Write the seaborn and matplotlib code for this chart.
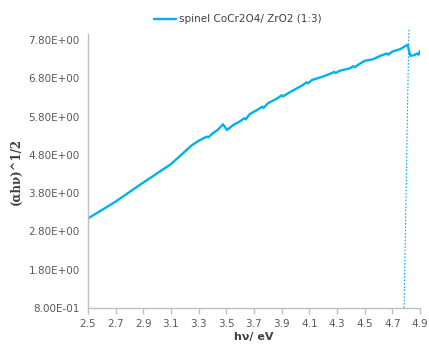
import matplotlib
matplotlib.use("Agg")
import matplotlib.pyplot as plt
import seaborn as sns
import pandas as pd
from matplotlib.ticker import FuncFormatter, FixedLocator

hv = [2.50, 2.70, 2.88, 3.10, 3.25, 3.30, 3.36, 3.37, 3.40, 3.44, 3.476, 3.505,
      3.55, 3.60, 3.63, 3.64, 3.67, 3.72, 3.76, 3.77, 3.80, 3.87, 3.90, 3.91,
      3.96, 4.05, 4.08, 4.09, 4.12, 4.20, 4.25, 4.28, 4.29, 4.32, 4.39, 4.42,
      4.43, 4.45, 4.50, 4.56, 4.62, 4.66, 4.67, 4.70, 4.76, 4.81, 4.83, 4.86,
      4.88, 4.89, 4.90]
ahv = [3.14, 3.58, 4.03, 4.56, 5.05, 5.17, 5.28, 5.26, 5.36, 5.46, 5.60, 5.45,
       5.58, 5.68, 5.76, 5.73, 5.87, 5.97, 6.06, 6.03, 6.15, 6.28, 6.36, 6.33,
       6.44, 6.62, 6.70, 6.67, 6.76, 6.85, 6.92, 6.97, 6.94, 7.00, 7.06, 7.12,
       7.09, 7.15, 7.26, 7.30, 7.40, 7.45, 7.42, 7.50, 7.57, 7.68, 7.39, 7.41,
       7.45, 7.42, 7.52]
tang_x = [4.785, 4.82]
tang_y = [0.8, 8.12]
xticks = [2.5, 2.7, 2.9, 3.1, 3.3, 3.5, 3.7, 3.9, 4.1, 4.3, 4.5, 4.7, 4.9]
yticks = [0.8, 1.8, 2.8, 3.8, 4.8, 5.8, 6.8, 7.8]
series_name = "spinel CoCr2O4/ ZrO2 (1:3)"

sns.set_style("white")
plt.rcParams['font.family'] = ['DejaVu Sans']

fig = plt.figure(figsize=(4.29, 3.49), dpi=100)
ax = fig.add_axes([0.205, 0.1175, 0.774, 0.785])

df = pd.DataFrame({"hv": hv, "ahv": ahv})
blue = "#00B0F0"
sns.lineplot(data=df, x="hv", y="ahv", ax=ax, color=blue, linewidth=1.7,
             label=series_name)
ax.plot(tang_x, tang_y, color=blue, linewidth=0.8, linestyle=(0, (1.5, 1.5)),
        clip_on=False)

ax.set_xlim(2.5, 4.9)
ax.set_ylim(0.8, 7.96)
ax.xaxis.set_major_locator(FixedLocator(xticks))
ax.yaxis.set_major_locator(FixedLocator(yticks))
ax.xaxis.set_major_formatter(FuncFormatter(lambda v, p: f"{v:.1f}"))
ax.yaxis.set_major_formatter(FuncFormatter(lambda v, p: f"{v:.2E}"))

for sp in ["top", "right"]:
    ax.spines[sp].set_visible(False)
for sp in ["left", "bottom"]:
    ax.spines[sp].set_color("#BFBFBF")
    ax.spines[sp].set_linewidth(1.0)

ax.tick_params(axis="x", which="major", length=4, color="#BFBFBF", width=1,
               labelsize=7.5, labelcolor="#595959", pad=4, direction="out", bottom=True)
ax.tick_params(axis="y", which="major", length=0, labelsize=7.5,
               labelcolor="#595959", pad=6)

ax.set_xlabel("hν/ eV", fontsize=8, fontweight="bold", color="#404040", labelpad=2)
ax.set_ylabel("(αhν)^1/2", fontsize=8.5, fontweight="bold", color="#404040",
              family="DejaVu Serif", labelpad=4)

leg = ax.legend(loc="lower center", bbox_to_anchor=(0.45, 1.02), frameon=False,
                fontsize=7.5, handlelength=2.2, handletextpad=0.2, borderaxespad=0)
for t in leg.get_texts():
    t.set_color("#404040")

fig.savefig("out.png", dpi=100)
